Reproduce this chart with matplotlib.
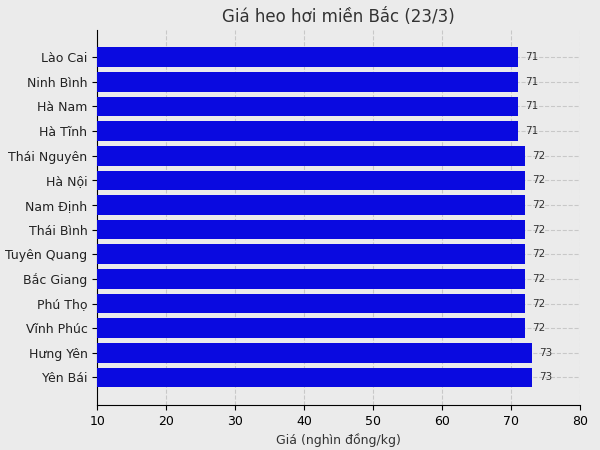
import matplotlib
matplotlib.use("Agg")
import matplotlib.pyplot as plt

provinces = ["Lào Cai", "Ninh Bình", "Hà Nam", "Hà Tĩnh", "Thái Nguyên", "Hà Nội",
             "Nam Định", "Thái Bình", "Tuyên Quang", "Bắc Giang", "Phú Thọ", "Vĩnh Phúc",
             "Hưng Yên", "Yên Bái"]
prices = [71, 71, 71, 71, 72, 72, 72, 72, 72, 72, 72, 72, 73, 73]

fig = plt.figure(figsize=(6, 4.5), dpi=100, facecolor="#ebebeb")
ax = fig.add_axes([0.162, 0.1, 0.805, 0.833], facecolor="#ebebeb")
y = list(range(len(provinces)))
ax.barh(y, prices, color="#0a0ae0", height=0.8, zorder=3)
ax.set_yticks(y)
ax.set_yticklabels(provinces, fontsize=9, color="#222222")
ax.set_xlim(10, 80)
ax.set_ylim(len(provinces) - 1 + 1.12, -1.1)
ax.tick_params(axis="x", labelsize=9)
ax.grid(True, linestyle="--", color="#c8c8c8", linewidth=0.8, zorder=0)
for s in ["top", "right"]:
    ax.spines[s].set_visible(False)
for i, p in enumerate(prices):
    ax.text(p + 1, i, str(p), va="center", ha="left", fontsize=7.5, color="#333333")
ax.set_xlabel("Giá (nghìn đồng/kg)", fontsize=9, color="#333333")
ax.set_title("Giá heo hơi miền Bắc (23/3)", fontsize=12, color="#333333", pad=6)
fig.savefig("out.png", facecolor=fig.get_facecolor())
